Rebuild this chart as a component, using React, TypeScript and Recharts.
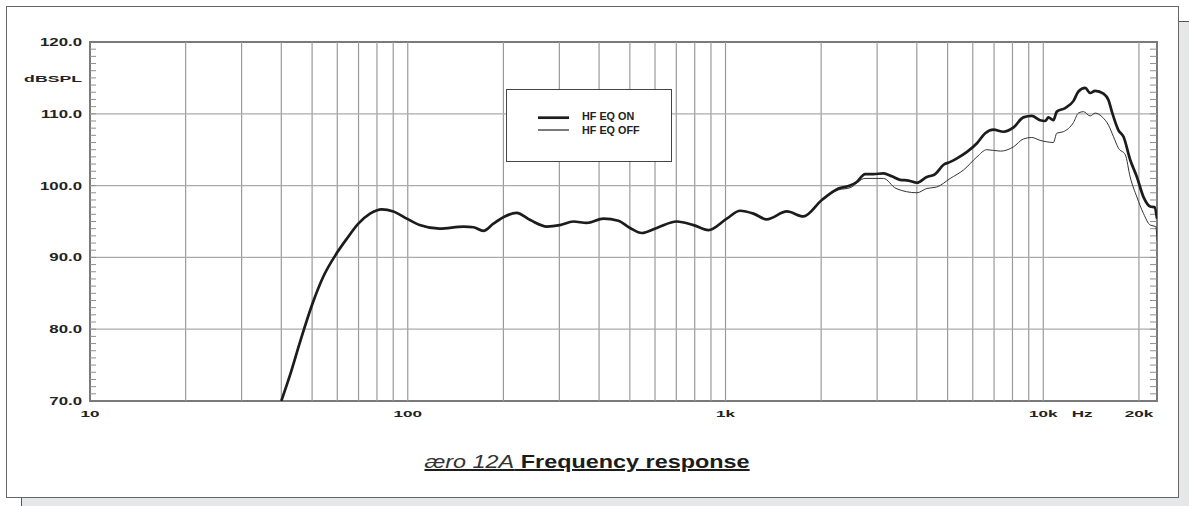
import React from 'react';
import { LineChart, Line, XAxis, YAxis, ReferenceLine, ReferenceArea, Legend } from 'recharts';

// Shared part of both curves (identical below ~2 kHz)
const sharedFreq = [40, 42.6, 45.8, 49.9, 54.2, 59.8, 64.3, 69.9, 76.1, 82.8, 90.1, 99.3, 109, 126, 150, 161, 173, 186, 202, 220, 243, 274, 301, 332, 366, 413, 460, 501, 545, 608, 702, 793, 883, 1009, 1112, 1225, 1349, 1560, 1758, 2010];
const sharedDb = [70.0, 73.6, 78.2, 83.3, 87.3, 90.6, 92.6, 94.7, 96.1, 96.7, 96.4, 95.4, 94.5, 94.0, 94.3, 94.2, 93.7, 94.7, 95.7, 96.2, 95.2, 94.3, 94.5, 95.0, 94.8, 95.4, 95.1, 94.1, 93.4, 94.1, 95.0, 94.5, 93.8, 95.4, 96.5, 96.1, 95.3, 96.4, 95.7, 98.0];

// HF EQ ON (upper range)
const onFreq = [2267, 2466, 2588, 2750, 2921, 3141, 3336, 3544, 3765, 4000, 4300, 4570, 4855, 5096, 5350, 5754, 6185, 6566, 6970, 7497, 8060, 8660, 9200, 9770, 10140, 10380, 10760, 11030, 11720, 12450, 12900, 13550, 14050, 14570, 15470, 16050, 16440, 17250, 17890, 18770, 19710, 20680, 21710, 22390, 22800];
const onDb = [99.6, 100.0, 100.5, 101.6, 101.6, 101.7, 101.3, 100.8, 100.7, 100.4, 101.2, 101.6, 102.9, 103.3, 103.8, 104.7, 105.9, 107.3, 107.8, 107.5, 108.1, 109.5, 109.7, 109.1, 109.0, 109.5, 109.1, 110.3, 110.8, 111.8, 113.1, 113.6, 112.9, 113.2, 112.8, 111.9, 110.3, 107.7, 106.8, 103.6, 101.2, 98.4, 97.1, 97.0, 95.4];

// HF EQ OFF (upper range)
const offFreq = [2267, 2466, 2750, 3141, 3440, 4000, 4300, 4620, 5096, 5620, 6185, 6640, 7330, 8060, 8660, 9200, 9770, 10260, 10760, 11030, 11560, 12450, 12900, 13380, 14050, 14570, 15290, 16050, 16640, 17250, 18120, 18770, 19710, 20680, 21710, 22600, 22800];
const offDb = [99.4, 99.7, 101.0, 101.0, 99.6, 99.0, 99.6, 99.8, 101.0, 102.2, 104.0, 105.0, 104.8, 105.4, 106.5, 106.7, 106.3, 106.1, 106.0, 107.3, 107.5, 108.8, 110.1, 110.3, 109.7, 110.1, 109.6, 108.4, 106.8, 105.2, 104.3, 101.2, 98.4, 96.1, 94.5, 94.3, 92.4];

const seriesNames = ['HF EQ ON', 'HF EQ OFF'];

const gridFreqs = [20, 30, 40, 50, 60, 70, 80, 90, 100, 200, 300, 400, 500, 600, 700, 800, 900, 1000, 2000, 3000, 4000, 5000, 6000, 7000, 8000, 9000, 10000, 20000];
const gridDb = [80, 90, 100, 110];
const xTickValues = [10, 100, 1000, 10000, 13260, 20000];
const xTickLabels = ['10', '100', '1k', '10k', 'Hz', '20k'];
const yTickValues = [70, 80, 90, 100, 110, 115, 120];
const yTickLabels = ['70.0', '80.0', '90.0', '100.0', '110.0', 'dBSPL', '120.0'];
const minorDb = Array.from({ length: 49 }, (_, i) => 71 + i);

const X_MIN = 10;
const X_MAX = 22800;

const onData = [
  ...sharedFreq.map((f, i) => ({ f, db: sharedDb[i] })),
  ...onFreq.map((f, i) => ({ f, db: onDb[i] })),
];
const offData = [
  ...sharedFreq.map((f, i) => ({ f, db: sharedDb[i] })),
  ...offFreq.map((f, i) => ({ f, db: offDb[i] })),
];

const FONT = '"Liberation Sans", Arial, Helvetica, sans-serif';
const seriesStyle: Record<string, { color: string; width: number }> = {
  'HF EQ ON': { color: '#1c1c1c', width: 2.7 },
  'HF EQ OFF': { color: '#333333', width: 1 },
};

const XTick = (props: any) => {
  const { x, y, payload } = props;
  const i = xTickValues.indexOf(payload.value);
  const label = i >= 0 ? xTickLabels[i] : '';
  return (
    <text
      transform={`translate(${x},${y + 8}) scale(1.8,1)`}
      textAnchor="middle"
      fontFamily={FONT}
      fontWeight="bold"
      fontSize={9.5}
      fill="#222"
    >
      {label}
    </text>
  );
};

const YTick = (props: any) => {
  const { x, y, payload } = props;
  const i = yTickValues.indexOf(payload.value);
  const label = i >= 0 ? yTickLabels[i] : '';
  const unit = label === 'dBSPL';
  return (
    <text
      transform={`translate(${x},${y + (unit ? 4.5 : 4)}) scale(${unit ? 2.08 : 1.6},1)`}
      textAnchor="end"
      fontFamily={FONT}
      fontWeight="bold"
      fontSize={unit ? 8.5 : 10.5}
      fill="#222"
    >
      {label}
    </text>
  );
};

// Minor 1 dB ticks: short stubs at both ends of a horizontal reference line
const MinorTickShape = (props: any) => {
  const x1 = Number(props.x1);
  const x2 = Number(props.x2);
  const y = Number(props.y1);
  if (!isFinite(x1) || !isFinite(x2) || !isFinite(y)) return <g />;
  const left = Math.min(x1, x2);
  const right = Math.max(x1, x2);
  return (
    <path
      d={`M${left},${y}h6M${right - 7},${y}h7`}
      stroke="#8f8f8f"
      strokeWidth={1}
      fill="none"
    />
  );
};

const renderLegend = () => (
  <div
    style={{
      width: 166,
      height: 73,
      border: '1px solid #444',
      background: '#fff',
      boxSizing: 'border-box',
      position: 'relative',
    }}
  >
    <svg width={164} height={71} style={{ position: 'absolute', left: 0, top: 0 }}>
      {seriesNames.map((name, i) => (
        <g key={name}>
          <line
            x1={31}
            x2={62}
            y1={27.7 + i * 12.3}
            y2={27.7 + i * 12.3}
            stroke={seriesStyle[name].color}
            strokeWidth={seriesStyle[name].width + (i === 1 ? 0.3 : 0)}
          />
          <text x={75} y={29.6 + i * 14.5} fontFamily={FONT} fontWeight="bold" fontSize={10.8} fill="#222">
            {name}
          </text>
        </g>
      ))}
    </svg>
  </div>
);

export default function App() {
  return (
    <div style={{ position: 'absolute', left: 0, top: 0, width: 1189, height: 506, background: '#fff', overflow: 'hidden' }}>
      {/* shadow */}
      <div
        style={{
          position: 'absolute',
          left: 21,
          top: 21,
          width: 1189,
          height: 506,
          background: '#e6e7e8',
          borderTop: '1px solid #555',
          borderLeft: '1px solid #555',
        }}
      />
      {/* frame */}
      <div
        style={{
          position: 'absolute',
          left: 6,
          top: 6,
          width: 1173,
          height: 492,
          background: '#fff',
          border: '1.5px solid #666',
          boxSizing: 'border-box',
        }}
      />
      <div style={{ position: 'absolute', left: 0, top: 0 }}>
        <LineChart width={1189} height={506} margin={{ top: 42, right: 32, left: 10, bottom: 80 }}>
          <XAxis
            dataKey="f"
            type="number"
            scale="log"
            domain={[X_MIN, X_MAX]}
            allowDataOverflow
            ticks={xTickValues}
            interval={0}
            tick={<XTick />}
            tickLine={false}
            tickSize={0}
            tickMargin={8}
            axisLine={false}
            height={25}
          />
          <YAxis
            type="number"
            domain={[70, 120]}
            allowDataOverflow
            ticks={yTickValues}
            interval={0}
            tick={<YTick />}
            tickLine={false}
            tickSize={0}
            tickMargin={8}
            axisLine={false}
            width={80}
          />
          {gridFreqs.map((f) => (
            <ReferenceLine key={`vf${f}`} x={f} stroke="#9a9a9a" strokeWidth={1.2} />
          ))}
          {gridDb.map((d) => (
            <ReferenceLine key={`hd${d}`} y={d} stroke="#ababab" strokeWidth={1.2} />
          ))}
          {minorDb.map((d) => (
            <ReferenceLine key={`mn${d}`} y={d} stroke="#8f8f8f" shape={(p: any) => <MinorTickShape {...p} />} />
          ))}
          <ReferenceArea x1={X_MIN} x2={X_MAX} y1={70} y2={120} fill="none" stroke="#7a7a7a" strokeWidth={2} />
          <Legend
            layout="horizontal"
            verticalAlign="middle"
            align="center"
            content={renderLegend}
            wrapperStyle={{ left: 506, top: 89, width: 166, height: 73 }}
          />
          <Line
            name="HF EQ OFF"
            data={offData}
            dataKey="db"
            type="monotone"
            stroke={seriesStyle['HF EQ OFF'].color}
            strokeWidth={seriesStyle['HF EQ OFF'].width}
            dot={false}
            activeDot={false}
            isAnimationActive={false}
          />
          <Line
            name="HF EQ ON"
            data={onData}
            dataKey="db"
            type="monotone"
            stroke={seriesStyle['HF EQ ON'].color}
            strokeWidth={seriesStyle['HF EQ ON'].width}
            dot={false}
            activeDot={false}
            isAnimationActive={false}
          />
        </LineChart>
      </div>
      {/* title */}
      <div
        style={{
          position: 'absolute',
          left: 0,
          top: 452.5,
          width: 1175,
          textAlign: 'center',
          fontFamily: FONT,
          fontSize: 18,
          lineHeight: '18px',
          whiteSpace: 'nowrap',
        }}
      >
        <span
          style={{
            display: 'inline-block',
            transform: 'scaleX(1.3)',
            textDecoration: 'underline',
            textDecorationThickness: '1.5px',
            color: '#1c1c1c',
          }}
        >
          <span style={{ fontStyle: 'italic', fontWeight: 300, color: '#333' }}>æro 12A</span>
          <span style={{ fontWeight: 'bold' }}> Frequency response</span>
        </span>
      </div>
    </div>
  );
}
